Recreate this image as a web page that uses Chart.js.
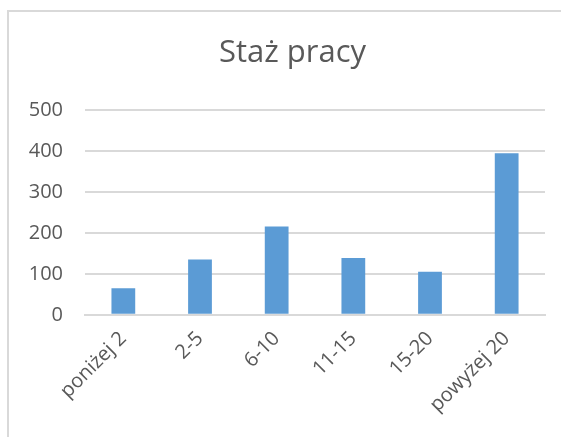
<!DOCTYPE html>
<html>
<head>
<meta charset="utf-8">
<script src="https://cdn.jsdelivr.net/npm/chart.js@4"></script>
<style>
  html, body { margin: 0; padding: 0; background: #fff; overflow: hidden; }
  #box {
    position: absolute; left: 7px; top: 10px;
    width: 570px; height: 450px;
    border-left: 2px solid #d9d9d9; border-top: 2px solid #d9d9d9;
  }
  #wrap { position: absolute; left: 0; top: 0; width: 567px; height: 440px; }
</style>
</head>
<body>
<div id="box"><div id="wrap"><canvas id="barChart"></canvas></div></div>
<script>
    // Categories and values
    const categories = ['poniżej 2', '2-5', '6-10', '11-15', '15-20', 'powyżej 20'];
    const values = [65, 135, 216, 139, 105, 395];
    const yTicks = [0, 100, 200, 300, 400, 500];

    const textColor = '#595959';
    const gridColor = '#d9d9d9';

    const data = {
        labels: categories,
        datasets: [{
            label: 'Staż pracy',
            data: values,
            backgroundColor: '#5b9bd5',
            borderWidth: 0,
            barPercentage: 0.31,
            categoryPercentage: 1
        }]
    };

    const config = {
        type: 'bar',
        data: data,
        options: {
            responsive: true,
            maintainAspectRatio: false,
            animation: false,
            layout: {
                padding: { left: 19, right: 19, top: 0, bottom: 31 }
            },
            plugins: {
                legend: { display: false },
                tooltip: { enabled: false },
                title: {
                    display: true,
                    text: 'Staż pracy',
                    color: textColor,
                    font: { family: 'Open Sans', size: 31, weight: 'normal' },
                    padding: { top: 23, bottom: 38 }
                }
            },
            scales: {
                x: {
                    grid: { display: false },
                    border: { display: true, color: gridColor, width: 2 },
                    ticks: {
                        color: textColor,
                        font: { family: 'Open Sans', size: 20 },
                        maxRotation: 45,
                        minRotation: 45,
                        autoSkip: false,
                        padding: 4
                    }
                },
                y: {
                    min: 0,
                    max: 500,
                    afterBuildTicks: (axis) => {
                        axis.ticks = yTicks.map(v => ({ value: v }));
                    },
                    afterFit: (axis) => {
                        axis.width = 57;
                    },
                    grid: { color: gridColor, lineWidth: 2, drawTicks: false },
                    border: { display: false },
                    ticks: {
                        color: textColor,
                        font: { family: 'Open Sans', size: 20 },
                        padding: 22
                    }
                },
                // empty spacer on the right, keeps the plot area off the right edge
                spacer: {
                    type: 'linear',
                    position: 'right',
                    grid: { display: false, drawTicks: false },
                    border: { display: false },
                    ticks: { display: false },
                    afterFit: (axis) => {
                        axis.width = 12;
                    }
                }
            }
        }
    };

    const barChart = new Chart(
        document.getElementById('barChart'),
        config
    );
</script>
</body>
</html>
